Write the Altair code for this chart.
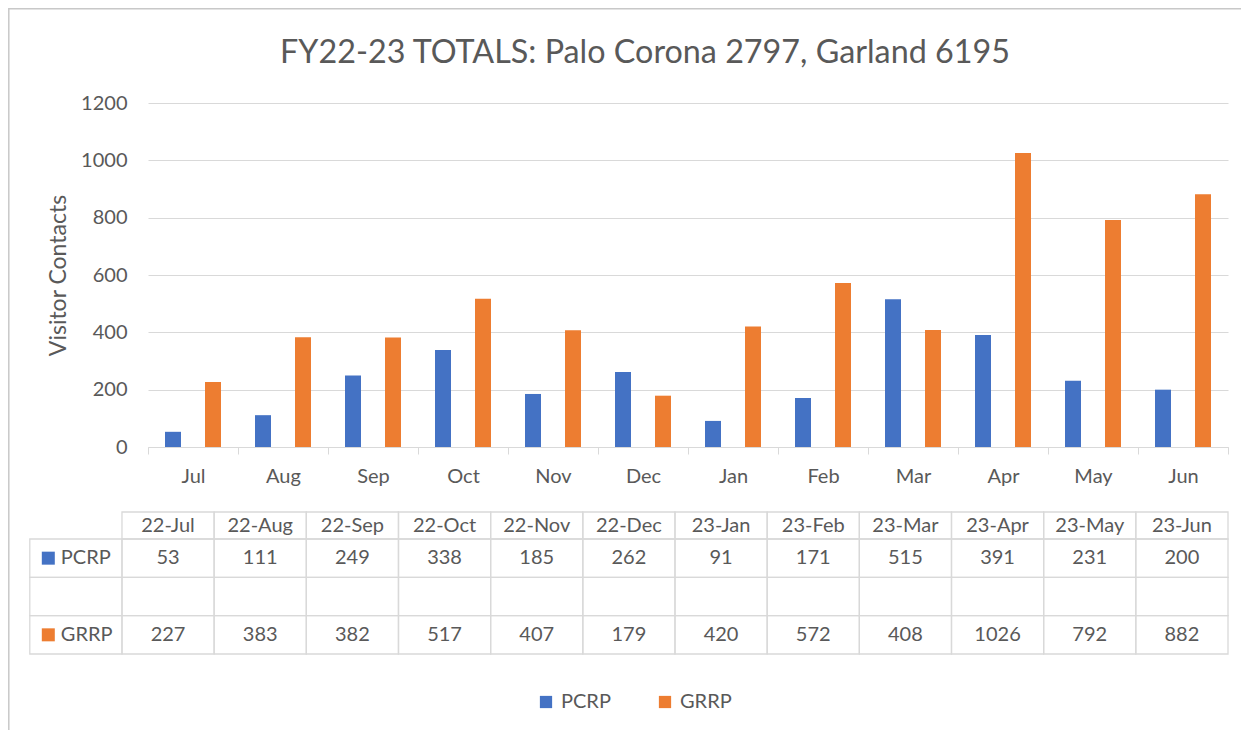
import altair as alt
import pandas as pd

months = ["Jul", "Aug", "Sep", "Oct", "Nov", "Dec", "Jan", "Feb", "Mar", "Apr", "May", "Jun"]
table_headers = ["22-Jul", "22-Aug", "22-Sep", "22-Oct", "22-Nov", "22-Dec",
                 "23-Jan", "23-Feb", "23-Mar", "23-Apr", "23-May", "23-Jun"]
series_names = ["PCRP", "GRRP"]
pcrp = [53, 111, 249, 338, 185, 262, 91, 171, 515, 391, 231, 200]
grrp = [227, 383, 382, 517, 407, 179, 420, 572, 408, 1026, 792, 882]
y_ticks = [0, 200, 400, 600, 800, 1000, 1200]
title_text = "FY22-23 TOTALS: Palo Corona 2797, Garland 6195"
y_title = "Visitor Contacts"

BLUE = "#4472C4"
ORANGE = "#ED7D31"
TXT = "#595959"
GRID = "#d9d9d9"
FS = 20

# ---- bar data
bars_df = pd.DataFrame(
    [{"month": m, "series": "PCRP", "value": v} for m, v in zip(months, pcrp)]
    + [{"month": m, "series": "GRRP", "value": v} for m, v in zip(months, grrp)]
)

color_scale = alt.Scale(domain=series_names, range=[BLUE, ORANGE])

bars = alt.Chart(bars_df).mark_bar().encode(
    x=alt.X("month:N", sort=months,
            scale=alt.Scale(paddingInner=0, paddingOuter=0),
            axis=alt.Axis(title=None, labelAngle=0, labelFontSize=FS, labelColor=TXT,
                          domainColor=GRID, tickColor=GRID, tickBand="extent",
                          tickSize=7, labelPadding=12, grid=False)),
    xOffset=alt.XOffset("series:N", sort=series_names,
                        scale=alt.Scale(paddingInner=0.6, paddingOuter=0.425)),
    y=alt.Y("value:Q", scale=alt.Scale(domain=[0, 1200], nice=False),
            axis=alt.Axis(values=y_ticks, format="d", title=y_title, titleFontSize=23,
                          titleFontWeight="normal", titleColor=TXT, titlePadding=10,
                          labelFontSize=FS, labelColor=TXT, labelPadding=21,
                          domain=False, ticks=False, gridColor=GRID)),
    color=alt.Color("series:N", scale=color_scale, sort=series_names,
                    legend=alt.Legend(title=None, orient="none", direction="horizontal",
                                      legendX=388, legendY=589, symbolType="square",
                                      symbolSize=150, symbolStrokeWidth=0,
                                      labelFontSize=FS, labelColor=TXT, labelOffset=5,
                                      columnPadding=44, padding=0)),
)

# ---- data table
cols = ["label"] + table_headers
tx_scale = alt.Scale(domain=cols, range=[-118.2, 1080], paddingInner=0, paddingOuter=0)

hdr_df = pd.DataFrame({"col": table_headers, "row": ["hdr"] * len(table_headers),
                       "txt": table_headers})
hy_scale = alt.Scale(domain=["hdr"], range=[409, 436], paddingInner=0, paddingOuter=0)

hdr_rect = alt.Chart(hdr_df).mark_rect(fillOpacity=0, stroke=GRID, strokeWidth=1.3).encode(
    x=alt.X("col:N", scale=tx_scale, axis=None),
    y=alt.Y("row:N", scale=hy_scale, axis=None),
)
hdr_text = alt.Chart(hdr_df).mark_text(fontSize=FS, color=TXT, baseline="middle").encode(
    x=alt.X("col:N", scale=tx_scale, axis=None),
    y=alt.Y("row:N", scale=hy_scale, axis=None),
    text="txt:N",
)
header = alt.layer(hdr_rect, hdr_text)

body_rows = ["PCRP", "blank", "GRRP"]
cells = []
for r in body_rows:
    for c in cols:
        cells.append({"row": r, "col": c})
cells_df = pd.DataFrame(cells)

vals = []
for h, v in zip(table_headers, pcrp):
    vals.append({"row": "PCRP", "col": h, "txt": str(v)})
for h, v in zip(table_headers, grrp):
    vals.append({"row": "GRRP", "col": h, "txt": str(v)})
vals_df = pd.DataFrame(vals)

labels_df = pd.DataFrame({"row": series_names, "col": ["label", "label"],
                          "series": series_names})

by_scale = alt.Scale(domain=body_rows, range=[436, 551], paddingInner=0, paddingOuter=0)

body_rect = alt.Chart(cells_df).mark_rect(fillOpacity=0, stroke=GRID, strokeWidth=1.3).encode(
    x=alt.X("col:N", scale=tx_scale, axis=None),
    y=alt.Y("row:N", scale=by_scale, axis=None),
)
body_text = alt.Chart(vals_df).mark_text(fontSize=FS, color=TXT, baseline="middle").encode(
    x=alt.X("col:N", scale=tx_scale, axis=None),
    y=alt.Y("row:N", scale=by_scale, axis=None),
    text="txt:N",
)
label_text = alt.Chart(labels_df).mark_text(fontSize=FS, color=TXT, baseline="middle",
                                            align="left", dx=31).encode(
    x=alt.X("col:N", scale=tx_scale, axis=None, bandPosition=0),
    y=alt.Y("row:N", scale=by_scale, axis=None),
    text="series:N",
)
label_sq = alt.Chart(labels_df).mark_square(size=169, opacity=1, xOffset=18.5).encode(
    x=alt.X("col:N", scale=tx_scale, axis=None, bandPosition=0),
    y=alt.Y("row:N", scale=by_scale, axis=None),
    color=alt.Color("series:N", scale=color_scale, sort=series_names),
)
body = alt.layer(body_rect, body_text, label_text, label_sq)

frame = alt.Chart(alt.Data(values=[{"a": 1}])).mark_rect(
    fillOpacity=0, stroke="#c8c8c8", strokeWidth=1.5
).encode(
    x=alt.value(-139.2), x2=alt.value(1200), y=alt.value(-94.2), y2=alt.value(700)
)

chart = alt.layer(frame, bars, header, body).resolve_scale(
    x="independent", y="independent"
).properties(
    width=1080, height=344,
    padding={"left": 140, "top": 95, "right": 13, "bottom": 283},
    autosize=alt.AutoSizeParams(type="none"),
    title=alt.TitleParams(title_text, fontSize=32.3, font="Lato", color=TXT,
                          fontWeight="normal", anchor="middle", frame="group",
                          dx=-43, offset=-87, baseline="alphabetic"),
).configure(font="Lato").configure_view(stroke=None)

chart.save("out.html", embed_options={"renderer": "svg", "actions": False})
